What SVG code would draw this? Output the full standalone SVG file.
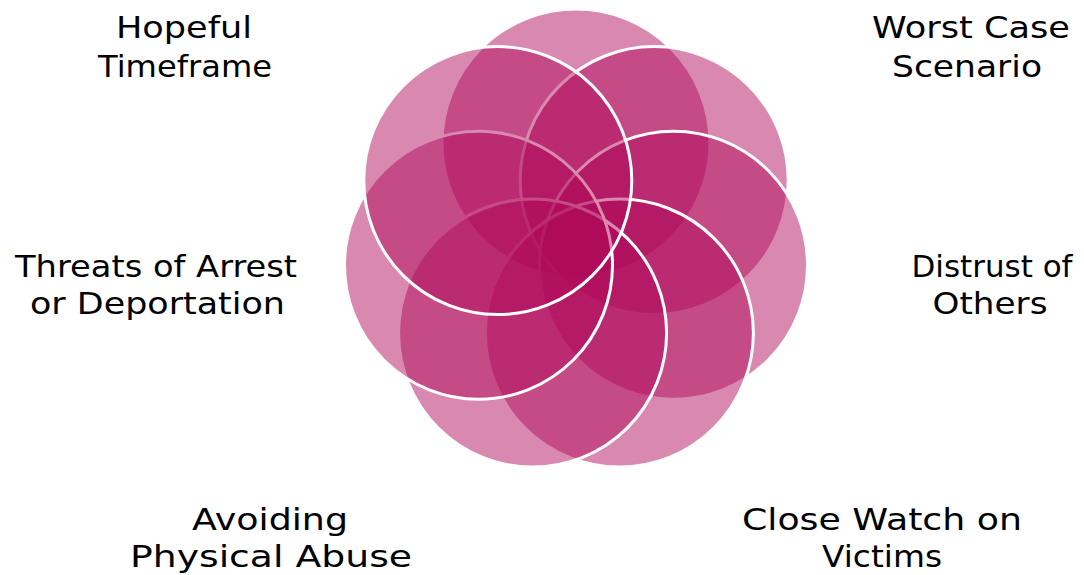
<svg xmlns="http://www.w3.org/2000/svg" width="1084" height="575" viewBox="0 0 1084 575">
  <style>
    .c { fill: #B0085A; fill-opacity: 0.48; stroke: #FFFFFF; stroke-width: 3; }
    .t { font-family: "DejaVu Sans", "Liberation Sans", sans-serif; font-size: 31px; fill: #000000; text-anchor: middle; }
  </style>
  <rect width="1084" height="575" fill="#FFFFFF"/>
  <g id="petals">
    <g id="circle-a"><circle class="c" cx="576" cy="143" r="134"/></g>
    <g id="circle-b"><circle class="c" cx="654.2" cy="180.6" r="134"/></g>
    <g id="circle-c"><circle class="c" cx="673.5" cy="265.3" r="134"/></g>
    <g id="circle-d"><circle class="c" cx="619.4" cy="333.1" r="134"/></g>
    <g id="circle-e"><circle class="c" cx="532.6" cy="333.1" r="134"/></g>
    <g id="circle-f"><circle class="c" cx="478.5" cy="265.3" r="134"/></g>
    <g id="circle-g"><circle class="c" cx="497.8" cy="180.6" r="134"/></g>
  </g>
  <g id="connectors"></g>
  <g id="label-hopeful">
    <text class="t" x="184" y="38" textLength="136" lengthAdjust="spacingAndGlyphs">Hopeful</text>
    <text class="t" x="185" y="77" textLength="174" lengthAdjust="spacingAndGlyphs">Timeframe</text>
  </g>
  <g id="label-worst">
    <text class="t" x="971" y="38" textLength="198" lengthAdjust="spacingAndGlyphs">Worst Case</text>
    <text class="t" x="967" y="77" textLength="150" lengthAdjust="spacingAndGlyphs">Scenario</text>
  </g>
  <g id="label-threats">
    <text class="t" x="156" y="276.5" textLength="282" lengthAdjust="spacingAndGlyphs">Threats of Arrest</text>
    <text class="t" x="157.5" y="313.5" textLength="255" lengthAdjust="spacingAndGlyphs">or Deportation</text>
  </g>
  <g id="label-distrust">
    <text class="t" x="992" y="276.5" textLength="161" lengthAdjust="spacingAndGlyphs">Distrust of</text>
    <text class="t" x="990" y="313.5" textLength="115" lengthAdjust="spacingAndGlyphs">Others</text>
  </g>
  <g id="label-avoiding">
    <text class="t" x="270" y="529.5" textLength="156" lengthAdjust="spacingAndGlyphs">Avoiding</text>
    <text class="t" x="271" y="566.5" textLength="282" lengthAdjust="spacingAndGlyphs">Physical Abuse</text>
  </g>
  <g id="label-close">
    <text class="t" x="882" y="529.5" textLength="280" lengthAdjust="spacingAndGlyphs">Close Watch on</text>
    <text class="t" x="882" y="566.5" textLength="120" lengthAdjust="spacingAndGlyphs">Victims</text>
  </g>
</svg>
